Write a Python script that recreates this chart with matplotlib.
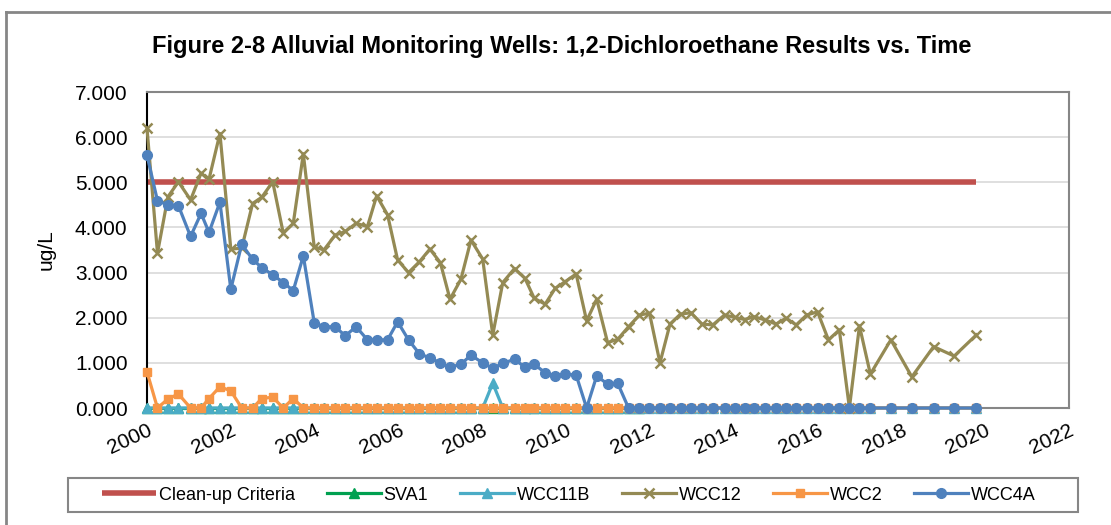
import matplotlib
matplotlib.use("Agg")
import matplotlib.pyplot as plt
from matplotlib.lines import Line2D
from matplotlib.patches import Rectangle

plt.rcParams['font.family'] = ['Liberation Sans', 'DejaVu Sans']

# sample dates (decimal years), shared by the wells
dates = [2000.00, 2000.25, 2000.50, 2000.75, 2001.04, 2001.29, 2001.48, 2001.74,
         2002.00, 2002.26, 2002.52, 2002.74, 2003.00, 2003.25, 2003.49, 2003.73,
         2003.99, 2004.22, 2004.49, 2004.73, 2004.99, 2005.26, 2005.48, 2005.74,
         2005.98, 2006.24, 2006.50, 2006.75, 2007.00, 2007.23, 2007.49, 2007.73,
         2008.01, 2008.25, 2008.49, 2008.77, 2009.02, 2009.24, 2009.50, 2009.74,
         2009.98, 2010.24, 2010.49, 2010.73, 2010.99, 2011.23, 2011.49, 2011.75,
         2011.99, 2012.24, 2012.48, 2012.73, 2012.98, 2013.24, 2013.50, 2013.78,
         2014.02, 2014.26, 2014.49, 2014.75, 2015.01, 2015.25, 2015.49, 2015.74,
         2016.00, 2016.26, 2016.52, 2016.76, 2017.00, 2017.26, 2017.75, 2018.25,
         2018.77, 2019.26, 2019.79]

wcc12 = [6.20, 3.43, 4.68, 5.01, 4.61, 5.20, 5.07, 6.08,
         3.52, 3.54, 4.53, 4.67, 5.01, 3.88, 4.09, 5.63,
         3.57, 3.50, 3.83, 3.91, 4.09, 4.02, 4.70, 4.28,
         3.28, 3.00, 3.24, 3.52, 3.22, 2.41, 2.85, 3.72,
         3.30, 1.62, 2.78, 3.09, 2.87, 2.43, 2.30, 2.65,
         2.80, 2.97, 1.93, 2.41, 1.45, 1.52, 1.80, 2.06,
         2.10, 1.00, 1.86, 2.08, 2.11, 1.86, 1.84, 2.06,
         2.01, 1.96, 2.02, 1.95, 1.86, 1.99, 1.84, 2.06,
         2.13, 1.51, 1.73, 0.00, 1.82, 0.75, 1.51, 0.69,
         1.36, 1.15, 1.62]

wcc4a = [5.60, 4.59, 4.50, 4.48, 3.80, 4.31, 3.89, 4.56,
         2.63, 3.63, 3.29, 3.11, 2.95, 2.78, 2.60, 3.37,
         1.89, 1.80, 1.80, 1.60, 1.80, 1.51, 1.51, 1.51,
         1.91, 1.51, 1.20, 1.11, 1.00, 0.90, 0.97, 1.17,
         1.00, 0.88, 0.99, 1.08, 0.90, 0.97, 0.78, 0.71,
         0.75, 0.73, 0.00, 0.71, 0.53, 0.55, 0.00, 0.00,
         0, 0, 0, 0, 0, 0, 0, 0,
         0, 0, 0, 0, 0, 0, 0, 0,
         0, 0, 0, 0, 0, 0, 0, 0,
         0, 0, 0]

wcc2 = [0.80, 0.00, 0.20, 0.31, 0.00, 0.00, 0.21, 0.47,
        0.38, 0.00, 0.00, 0.21, 0.24, 0.00, 0.21, 0,
        0, 0, 0, 0, 0, 0, 0, 0,
        0, 0, 0, 0, 0, 0, 0, 0,
        0, 0, 0, 0, 0, 0, 0, 0,
        0, 0, 0, 0, 0, 0, 0, 0,
        0, 0, 0, 0, 0, 0, 0, 0,
        0, 0, 0, 0, 0, 0, 0, 0,
        0, 0, 0, 0, 0, 0, 0, 0,
        0, 0, 0]

wcc11b = [0, 0, 0, 0, 0, 0, 0, 0,
          0, 0, 0, 0, 0, 0, 0, 0,
          0, 0, 0, 0, 0, 0, 0, 0,
          0, 0, 0, 0, 0, 0, 0, 0,
          0, 0.55, 0, 0, 0, 0, 0, 0,
          0, 0, 0, 0, 0, 0, 0, 0,
          0, 0, 0, 0, 0, 0, 0, 0,
          0, 0, 0, 0, 0, 0, 0, 0,
          0, 0, 0, 0, 0, 0, 0, 0,
          0, 0, 0]

sva1 = [0, 0, 0, 0, 0, 0, 0, 0,
        0, 0, 0, 0, 0, 0, 0, 0,
        0, 0, 0, 0, 0, 0, 0, 0,
        0, 0, 0, 0, 0, 0, 0, 0,
        0, 0, 0, 0, 0, 0, 0, 0,
        0, 0, 0, 0, 0, 0, 0, 0]

cleanup_dates = [2000.0, 2019.79]
cleanup_vals = [5.0, 5.0]

xticks = [2000, 2002, 2004, 2006, 2008, 2010, 2012, 2014, 2016, 2018, 2020, 2022]
yticks = [0, 1, 2, 3, 4, 5, 6, 7]

fig = plt.figure(figsize=(11.11, 5.25), dpi=100)
ax = fig.add_axes([147/1111, 1-408/525, (1069-147)/1111, (408-92)/525])

lw = 2.3
ax.plot(cleanup_dates, cleanup_vals, color='#C0504D', lw=4, solid_capstyle='butt',
        label='Clean-up Criteria', zorder=2)
ax.plot(dates[:len(sva1)], sva1, color='#00A050', lw=lw, marker='^', ms=7,
        label='SVA1', clip_on=False, zorder=3)
ax.plot(dates, wcc11b, color='#4BACC6', lw=lw, marker='^', ms=7,
        label='WCC11B', clip_on=False, zorder=4)
ax.plot(dates, wcc12, color='#948A54', lw=lw, marker='x', ms=6.5, mew=1.8,
        label='WCC12', clip_on=False, zorder=5)
ax.plot(dates, wcc2, color='#F79646', lw=lw, marker='s', ms=6,
        label='WCC2', clip_on=False, zorder=6)
ax.plot(dates, wcc4a, color='#4F81BD', lw=lw, marker='o', ms=7,
        label='WCC4A', clip_on=False, zorder=7)

ax.set_xlim(2000, 2022)
ax.set_ylim(0, 7)
ax.set_xticks(xticks)
ax.set_xticklabels([str(t) for t in xticks], rotation=25, ha='right', va='top',
                   rotation_mode='anchor')
ax.set_yticks(yticks)
ax.set_yticklabels(['%.3f' % v for v in yticks])
ax.tick_params(axis='both', length=0, labelsize=15)
ax.tick_params(axis='y', pad=14)
ax.tick_params(axis='x', pad=9)
ax.grid(axis='y', color='#D9D9D9', lw=1.2)
ax.set_axisbelow(True)
for s in ['top', 'right', 'bottom']:
    ax.spines[s].set_color('#868686')
    ax.spines[s].set_linewidth(1.5)
ax.spines['left'].set_color('black')
ax.spines['left'].set_linewidth(1.5)
ax.set_ylabel('ug/L', fontsize=15, labelpad=14)

fig.text(562/1111, 1-46/525, 'Figure 2-8 Alluvial Monitoring Wells: 1,2-Dichloroethane Results vs. Time',
         ha='center', va='center', fontsize=17, fontweight='bold')

# chart area border (top and left visible)
fig.add_artist(Line2D([6/1111, 6/1111], [0, 1-12/525], color='#868686', lw=2))
fig.add_artist(Line2D([6/1111, 1], [1-12/525, 1-12/525], color='#868686', lw=2))

# legend box
fig.add_artist(Rectangle((68/1111, 1-512/525), (1078-68)/1111, 34/525,
                         transform=fig.transFigure, fill=False,
                         edgecolor='#868686', lw=1.5))
leg = fig.legend(loc='center', ncol=6, fontsize=13,
                 bbox_to_anchor=(569/1111, 1-495/525),
                 borderaxespad=0, handlelength=3.0, handletextpad=0.15,
                 columnspacing=1.75, frameon=False)

fig.savefig('out.png', dpi=100)
